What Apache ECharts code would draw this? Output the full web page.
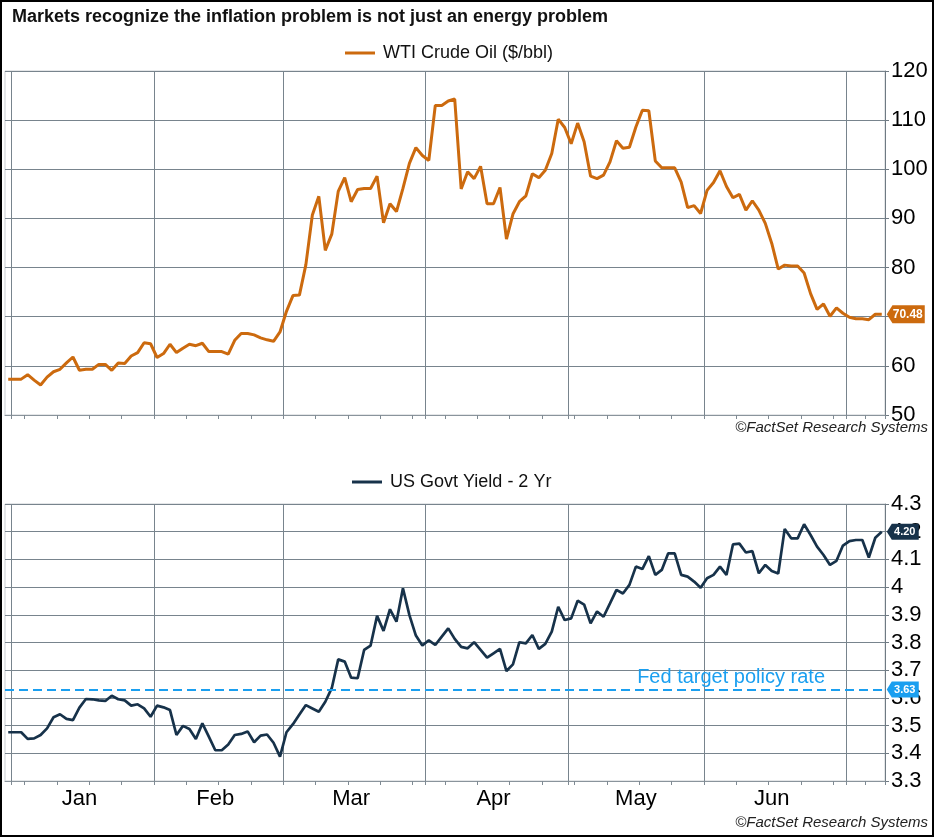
<!DOCTYPE html>
<html>
<head>
<meta charset="utf-8">
<title>Markets recognize the inflation problem</title>
<script src="https://cdn.jsdelivr.net/npm/echarts@6/dist/echarts.min.js"></script>
<style>
  html, body { margin: 0; padding: 0; background: #fff; }
  #chart { width: 936px; height: 838px; }
</style>
</head>
<body>
<div id="chart"></div>
<script>
/* DATOS: PRECIO WTI ($/bbl) POR DIA HABIL (31 dic - 8 jul) */
var oilPrice = [
  57.3,
  /* ene */ 57.3, 57.3, 58.2, 57.1, 56.1, 57.7, 58.8, 59.3, 60.6, 61.8, 59.1, 59.3, 59.3, 60.3, 60.3, 59.1, 60.6, 60.5, 62.0, 62.7, 64.7, 64.5,
  /* feb */ 61.7, 62.5, 64.4, 62.7, 63.6, 64.4, 64.1, 64.6, 62.9, 62.9, 62.9, 62.4, 65.2, 66.6, 66.6, 66.3, 65.7, 65.3, 65.0, 66.9,
  /* mar */ 71.1, 74.3, 74.4, 80.6, 90.7, 94.5, 83.5, 86.8, 95.5, 98.3, 93.4, 95.9, 96.1, 96.1, 98.6, 89.1, 93.0, 91.4, 96.1, 101.2, 104.4, 102.8,
  /* abr */ 101.8, 113.0, 113.0, 113.9, 114.3, 96.0, 99.5, 98.1, 100.6, 93.0, 93.0, 96.3, 85.8, 90.9, 93.4, 94.6, 99.1, 98.3, 99.8, 103.2, 110.2, 108.5,
  /* may */ 105.2, 109.4, 105.6, 98.6, 98.1, 98.8, 101.5, 105.8, 104.3, 104.5, 108.6, 112.0, 111.9, 101.7, 100.3, 100.3, 100.3, 97.4, 92.2, 92.6, 91.0,
  /* jun */ 95.7, 97.3, 99.7, 96.5, 94.2, 94.9, 91.7, 93.6, 91.7, 89.0, 84.9, 79.7, 80.5, 80.3, 80.3, 78.9, 74.7, 71.5, 72.6, 70.1, 71.8, 70.7,
  /* jul */ 69.9, 69.6, 69.6, 69.4, 70.5, 70.48
];

/* DATOS: RENDIMIENTO BONO 2 AÑOS (%) */
var yield2y = [
  3.476,
  /* ene */ 3.476, 3.476, 3.452, 3.454, 3.466, 3.490, 3.530, 3.541, 3.524, 3.520, 3.565, 3.596, 3.595, 3.591, 3.589, 3.608, 3.595, 3.591, 3.572, 3.577, 3.562, 3.532,
  /* feb */ 3.572, 3.566, 3.556, 3.466, 3.499, 3.488, 3.452, 3.508, 3.460, 3.411, 3.411, 3.432, 3.466, 3.470, 3.479, 3.440, 3.464, 3.468, 3.438, 3.388,
  /* mar */ 3.476, 3.505, 3.540, 3.574, 3.562, 3.550, 3.586, 3.635, 3.739, 3.731, 3.673, 3.671, 3.773, 3.789, 3.896, 3.842, 3.920, 3.875, 3.996, 3.899, 3.825, 3.789,
  /* abr */ 3.808, 3.791, 3.821, 3.851, 3.813, 3.784, 3.779, 3.801, 3.773, 3.745, 3.761, 3.777, 3.697, 3.721, 3.801, 3.797, 3.827, 3.777, 3.795, 3.839, 3.929, 3.881,
  /* may */ 3.887, 3.951, 3.937, 3.869, 3.912, 3.893, 3.941, 3.990, 3.977, 4.008, 4.074, 4.065, 4.112, 4.044, 4.062, 4.122, 4.122, 4.044, 4.038, 4.020, 3.998,
  /* jun */ 4.032, 4.044, 4.074, 4.044, 4.154, 4.157, 4.125, 4.130, 4.050, 4.080, 4.058, 4.049, 4.210, 4.176, 4.176, 4.227, 4.188, 4.146, 4.116, 4.080, 4.095, 4.150,
  /* jul */ 4.166, 4.170, 4.170, 4.107, 4.178, 4.20
];

var fedRate = 3.63;
var monthNames = ['Jan', 'Feb', 'Mar', 'Apr', 'May', 'Jun'];
var oilTicks = [50, 120, 10];     // min, max, intervalo
var yieldTicks = [3.3, 4.3, 0.1];

/* DIAS HABILES (EJE DE CATEGORIAS) */
var dias = [];
var d = new Date(Date.UTC(2025, 11, 31));
var fin = Date.UTC(2026, 6, 8);
while (d.getTime() <= fin) {
  var wd = d.getUTCDay();
  if (wd !== 0 && wd !== 6) dias.push(d.toISOString().slice(0, 10));
  d.setUTCDate(d.getUTCDate() + 1);
}

// inicio de mes, lunes y centro de cada mes
var inicioMes = {}, lunes = {}, etiquetaMes = {};
var mesIni = null;
for (var i = 0; i < dias.length; i++) {
  if (i > 0 && dias[i].slice(5, 7) !== dias[i - 1].slice(5, 7)) {
    inicioMes[i] = true;
    if (mesIni !== null) etiquetaMes[Math.floor((mesIni + i - 1) / 2)] = dias[mesIni];
    mesIni = i;
  }
  if (new Date(dias[i] + 'T00:00:00Z').getUTCDay() === 1) lunes[i] = true;
}

var FONT = "'Liberation Sans', Arial, Helvetica, sans-serif";
var ORANGE = '#cc6a0e';
var NAVY = '#17324a';
var BLUE = '#1a9ff0';
var GRID_COLOR = '#78848d';
var last = dias[dias.length - 1];

function ejeX(gridIndex, conEtiquetas) {
  return {
    type: 'category',
    gridIndex: gridIndex,
    data: dias,
    boundaryGap: true,
    axisLine: { show: true, lineStyle: { color: '#8a949c', width: 1 } },
    axisTick: {
      show: true,
      length: 4,
      lineStyle: { color: '#7f8a93' },
      interval: function (idx) { return !!(inicioMes[idx] || lunes[idx]); }
    },
    splitLine: {
      show: true,
      lineStyle: { color: GRID_COLOR, width: 1 },
      interval: function (idx) { return !!inicioMes[idx]; }
    },
    axisLabel: {
      show: conEtiquetas,
      margin: 7,
      fontSize: 22,
      color: '#000',
      fontFamily: FONT,
      interval: function (idx) { return !!etiquetaMes[idx]; },
      formatter: function (val, idx) {
        var m = parseInt(etiquetaMes[idx] ? etiquetaMes[idx].slice(5, 7) : val.slice(5, 7), 10);
        return monthNames[m - 1] || '';
      }
    }
  };
}

function ejeY(gridIndex, t, fmt) {
  return {
    type: 'value',
    gridIndex: gridIndex,
    position: 'right',
    min: t[0],
    max: t[1],
    interval: t[2],
    axisLine: { show: true, lineStyle: { color: '#6f7a83', width: 1 } },
    axisTick: { show: true, length: 4, lineStyle: { color: '#6f7a83' } },
    splitLine: { show: true, lineStyle: { color: GRID_COLOR, width: 1 } },
    axisLabel: { margin: 6, fontSize: 22, color: '#000', fontFamily: FONT, formatter: fmt }
  };
}

var chart = echarts.init(document.getElementById('chart'), null, { renderer: 'canvas' });

var option = {
  animation: false,
  backgroundColor: '#fff',
  grid: [
    { left: 5, right: 51, top: 71, height: 344, show: true, borderColor: '#c9cdd1', borderWidth: 1 },
    { left: 5, right: 51, top: 504, height: 277, show: true, borderColor: '#c9cdd1', borderWidth: 1 }
  ],
  legend: [
    {
      data: ['WTI Crude Oil ($/bbl)'], left: 340, top: 39,
      icon: 'rect', itemWidth: 30, itemHeight: 3, selectedMode: false,
      textStyle: { fontSize: 18, color: '#111', fontFamily: FONT, padding: [0, 0, 0, 3] }
    },
    {
      data: ['US Govt Yield - 2 Yr'], left: 347, top: 468,
      icon: 'rect', itemWidth: 30, itemHeight: 3, selectedMode: false,
      textStyle: { fontSize: 18, color: '#111', fontFamily: FONT, padding: [0, 0, 0, 3] }
    }
  ],
  xAxis: [ejeX(0, false), ejeX(1, true)],
  yAxis: [
    ejeY(0, oilTicks, function (v) { return String(v); }),
    ejeY(1, yieldTicks, function (v) { return String(parseFloat(v.toFixed(1))); })
  ],
  series: [
    {
      name: 'WTI Crude Oil ($/bbl)',
      type: 'line',
      xAxisIndex: 0,
      yAxisIndex: 0,
      data: oilPrice,
      symbol: 'none',
      color: ORANGE,
      lineStyle: { width: 3, color: ORANGE },
      emphasis: { disabled: true },
      markPoint: {
        silent: true,
        symbol: 'path://M0,9 L6,0 L40,0 L40,18 L6,18 Z',
        symbolSize: [38, 18],
        symbolOffset: [24, 0],
        itemStyle: { color: ORANGE },
        label: { show: true, color: '#fff', fontWeight: 'bold', fontSize: 12, fontFamily: FONT, offset: [2, 0],
          formatter: function (p) { return p.value.toFixed(2); } },
        data: [{ coord: [last, oilPrice[oilPrice.length - 1]], value: oilPrice[oilPrice.length - 1] }]
      }
    },
    {
      name: 'US Govt Yield - 2 Yr',
      type: 'line',
      xAxisIndex: 1,
      yAxisIndex: 1,
      data: yield2y,
      symbol: 'none',
      color: NAVY,
      lineStyle: { width: 2.7, color: NAVY },
      emphasis: { disabled: true },
      markLine: {
        silent: true,
        symbol: 'none',
        lineStyle: { color: BLUE, type: [9, 5], width: 2 },
        label: {
          show: true, position: 'insideEndTop', distance: [60, 2],
          formatter: 'Fed target policy rate', color: BLUE, fontSize: 20, fontFamily: FONT
        },
        data: [{ yAxis: fedRate }]
      },
      markPoint: {
        silent: true,
        symbol: 'path://M0,8 L5,0 L32,0 L32,16 L5,16 Z',
        symbolSize: [32, 16],
        symbolOffset: [21, 0],
        itemStyle: { color: NAVY },
        label: { show: true, color: '#fff', fontWeight: 'bold', fontSize: 11, fontFamily: FONT, offset: [2, 0],
          formatter: function (p) { return p.value.toFixed(2); } },
        data: [
          { coord: [last, yield2y[yield2y.length - 1]], value: yield2y[yield2y.length - 1] },
          { coord: [last, fedRate], value: fedRate, itemStyle: { color: BLUE } }
        ]
      }
    }
  ],
  graphic: [
    {
      type: 'rect', silent: true, z: 100,
      shape: { x: 1, y: 1, width: 932, height: 835 },
      style: { fill: 'none', stroke: '#000', lineWidth: 2 }
    },
    {
      type: 'text', left: 12, top: 8, silent: true,
      style: { text: 'Markets recognize the inflation problem is not just an energy problem',
        font: 'bold 18px ' + FONT, fill: '#111' }
    },
    {
      type: 'text', right: 8, top: 420, silent: true,
      style: { text: '©FactSet Research Systems', font: 'italic 15px ' + FONT, fill: '#222' }
    },
    {
      type: 'text', right: 8, top: 815, silent: true,
      style: { text: '©FactSet Research Systems', font: 'italic 15px ' + FONT, fill: '#222' }
    }
  ]
};

chart.setOption(option);
</script>
</body>
</html>
